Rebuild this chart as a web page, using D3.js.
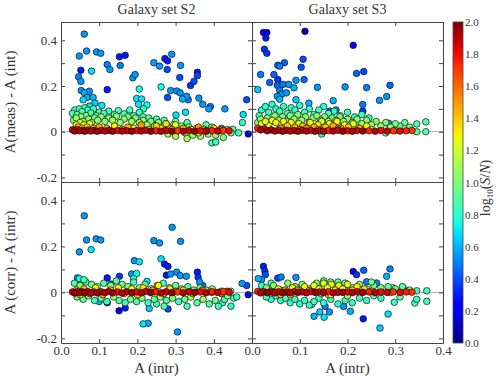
<!DOCTYPE html>
<html>
<head>
<meta charset="utf-8">
<script src="https://cdn.jsdelivr.net/npm/d3@7"></script>
<style>
  body { margin: 0; background: #fff; }
  text { font-family: "Liberation Serif", "DejaVu Serif", serif; fill: #333; }
</style>
</head>
<body>
<svg width="498" height="380"></svg>
<script>
// data: [A(intr), difference, log10(S/N)]

var titles = ["Galaxy set S2", "Galaxy set S3"];
var yLabels = ["A(meas) - A (int)", "A (corr) - A (intr)"];
var xTicks = [0, 0.1, 0.2, 0.3, 0.4];
var yTicks = [-0.2, -0.1, 0, 0.1, 0.2, 0.3, 0.4];
var yTickLabels = [-0.2, 0, 0.2, 0.4];
var cbTicks = [0, 0.2, 0.4, 0.6, 0.8, 1.0, 1.2, 1.4, 1.6, 1.8, 2.0];

var s2Meas = [
  [0.061,0.427,0.55],[0.067,0.353,0.55],[0.048,0.331,0.55],[0.052,0.269,0.3],[0.046,0.240,0.5],[0.052,0.220,0.55],
  [0.080,0.265,0.7],[0.093,0.349,0.55],[0.104,0.343,0.55],[0.053,0.180,0.55],[0.061,0.170,0.6],[0.074,0.177,0.55],
  [0.068,0.150,0.6],[0.084,0.150,0.6],[0.089,0.125,0.65],[0.075,0.112,0.7],[0.058,0.140,0.7],[0.121,0.294,0.5],
  [0.128,0.272,0.55],[0.153,0.328,0.3],[0.168,0.334,0.3],[0.155,0.290,0.5],[0.121,0.184,0.3],[0.107,0.115,0.7],
  [0.188,0.236,0.55],[0.194,0.250,0.55],[0.205,0.187,0.75],[0.198,0.145,0.7],[0.211,0.143,0.7],[0.203,0.120,0.7],
  [0.225,0.117,0.75],[0.216,0.100,0.8],[0.243,0.302,0.55],[0.258,0.287,0.55],[0.272,0.320,0.3],[0.279,0.310,0.3],
  [0.290,0.339,0.55],[0.278,0.272,0.4],[0.262,0.196,0.75],[0.279,0.150,0.4],[0.287,0.180,0.55],[0.303,0.178,0.55],
  [0.312,0.170,0.55],[0.313,0.290,0.55],[0.311,0.237,0.4],[0.329,0.155,0.55],[0.318,0.143,0.6],[0.333,0.140,0.5],
  [0.339,0.202,0.35],[0.348,0.220,0.4],[0.357,0.260,0.3],[0.357,0.245,0.4],[0.361,0.147,0.55],[0.371,0.120,0.55],
  [0.387,0.100,0.55],[0.391,0.110,0.5],[0.429,0.100,0.55],[0.326,0.085,0.7],[0.301,0.073,0.7],[0.486,0.140,0.4],
  [0.477,0.075,0.7],[0.475,0.040,0.8],[0.490,-0.010,0.15],[0.395,-0.049,0.85],
  [0.030,0.080,0.88],[0.036,0.095,0.85],[0.042,0.075,0.9],[0.048,0.100,0.85],[0.055,0.088,0.87],[0.062,0.105,0.82],
  [0.070,0.095,0.85],[0.078,0.082,0.88],[0.085,0.100,0.85],[0.092,0.070,0.9],[0.100,0.085,0.86],[0.112,0.080,0.88],
  [0.125,0.090,0.85],[0.140,0.075,0.9],[0.150,0.092,0.86],[0.165,0.078,0.88],[0.180,0.095,0.85],[0.190,0.070,0.9],
  [0.205,0.085,0.85],[0.215,0.065,0.88],[0.230,0.060,0.9],[0.250,0.055,0.88],[0.270,0.050,0.9],[0.300,0.045,0.9],
  [0.330,0.040,0.9],[0.380,0.030,0.9],[0.420,0.015,0.85],[0.450,0.010,0.85],[0.465,-0.005,0.85],[0.405,-0.045,0.85],
  [0.033,0.050,1.0],[0.040,0.060,1.05],[0.046,0.040,1.0],[0.052,0.065,1.02],[0.058,0.045,1.05],[0.065,0.070,1.0],
  [0.072,0.055,1.03],[0.080,0.040,1.08],[0.088,0.060,1.0],[0.096,0.050,1.05],[0.105,0.065,1.0],[0.115,0.045,1.05],
  [0.125,0.060,1.02],[0.135,0.050,1.08],[0.145,0.068,1.0],[0.155,0.040,1.05],[0.165,0.055,1.02],[0.175,0.065,1.0],
  [0.185,0.045,1.05],[0.195,0.060,1.0],[0.205,0.040,1.05],[0.215,0.050,1.02],[0.225,0.030,1.08],[0.235,0.045,1.0],
  [0.245,0.025,1.05],[0.255,0.040,1.0],[0.265,0.020,1.05],[0.275,0.035,1.02],[0.285,0.015,1.08],[0.295,0.030,1.0],
  [0.305,0.010,1.05],[0.315,0.025,1.0],[0.325,-0.005,1.05],[0.335,0.020,1.0],[0.345,-0.015,1.05],[0.355,0.015,1.02],
  [0.365,-0.020,1.08],[0.375,0.010,1.0],[0.385,-0.010,1.05],[0.395,0.020,1.0],[0.405,-0.015,1.05],[0.415,0.005,1.02],
  [0.425,-0.025,1.0],[0.435,0.010,0.95],[0.445,-0.005,0.95],[0.300,-0.020,1.1],[0.330,-0.030,1.1],[0.280,-0.010,1.1],
  [0.360,-0.005,1.15],[0.250,0.005,1.15],
  [0.040,0.030,1.3],[0.045,0.020,1.35],[0.050,0.040,1.25],[0.055,0.015,1.4],[0.060,0.030,1.3],[0.068,0.020,1.35],
  [0.075,0.035,1.25],[0.085,0.015,1.4],[0.100,0.020,1.45],[0.120,0.015,1.4],[0.140,0.025,1.3],[0.160,0.010,1.5],
  [0.175,0.020,1.45],[0.190,0.015,1.3],[0.210,0.030,1.5],[0.230,0.010,1.35],[0.250,0.025,1.4],[0.260,0.015,1.3],
  [0.275,0.035,1.35],[0.290,0.010,1.5],[0.300,0.030,1.25],[0.320,0.015,1.45],[0.340,0.010,1.3],[0.360,0.020,1.5],
  [0.380,0.005,1.55],[0.400,0.015,1.35],[0.420,0.010,1.6],
  [0.030,0.008,1.85],[0.036,0.003,1.95],[0.042,0.010,1.8],[0.048,0.004,1.9],[0.055,0.006,1.85],[0.062,0.002,1.95],
  [0.070,0.007,1.8],[0.078,0.003,1.9],[0.086,0.006,1.85],[0.095,0.002,1.95],[0.105,0.005,1.8],[0.115,0.003,1.9],
  [0.125,0.006,1.85],[0.135,0.002,1.95],[0.148,0.005,1.8],[0.160,0.003,1.9],[0.172,0.004,1.85],[0.185,0.002,1.95],
  [0.198,0.005,1.8],[0.210,0.003,1.9],[0.222,0.006,1.85],[0.235,0.002,1.95],[0.248,0.004,1.75],[0.262,0.002,1.9],
  [0.275,0.005,1.85],[0.290,0.002,1.95],[0.305,0.004,1.7],[0.320,0.002,1.9],[0.335,0.005,1.85],[0.350,0.002,1.95],
  [0.365,0.004,1.8],[0.380,0.002,1.9],[0.395,0.005,1.75],[0.410,0.003,1.85],[0.425,0.006,1.7],[0.440,0.004,1.8]
];

var s2Corr = [
  [0.061,0.333,0.55],[0.048,0.176,0.55],[0.067,0.228,0.55],[0.079,0.186,0.7],[0.092,0.233,0.55],[0.104,0.228,0.55],
  [0.243,0.225,0.55],[0.258,0.215,0.55],[0.291,0.283,0.55],[0.313,0.222,0.55],[0.262,0.146,0.7],[0.271,0.123,0.3],
  [0.280,0.113,0.3],[0.276,0.075,0.3],[0.287,0.080,0.55],[0.303,0.088,0.55],[0.312,0.073,0.55],[0.328,0.070,0.55],
  [0.357,0.088,0.3],[0.359,0.066,0.35],[0.371,0.030,0.5],[0.363,0.045,0.55],[0.192,0.138,0.55],[0.205,0.133,0.7],
  [0.198,0.082,0.75],[0.185,0.080,0.55],[0.225,0.048,0.7],[0.043,0.063,0.55],[0.053,0.046,0.55],[0.121,0.063,0.3],
  [0.153,0.070,0.35],[0.131,0.036,0.5],[0.152,-0.080,0.2],[0.168,-0.068,0.3],[0.121,-0.045,0.35],[0.215,-0.137,0.7],
  [0.228,-0.134,0.6],[0.231,-0.070,0.65],[0.280,-0.072,0.4],[0.305,-0.172,0.55],[0.474,0.039,0.55],[0.486,0.030,0.4],
  [0.490,-0.010,0.2],[0.423,-0.045,0.8],[0.445,-0.060,0.8],[0.100,-0.040,0.6],
  [0.035,0.040,0.9],[0.042,-0.020,0.95],[0.050,0.030,1.0],[0.058,-0.030,0.9],[0.065,0.045,0.85],[0.072,-0.015,1.05],
  [0.080,0.035,0.95],[0.088,-0.035,0.85],[0.095,0.025,1.0],[0.105,-0.025,0.95],[0.112,0.040,0.9],[0.120,-0.040,0.85],
  [0.130,0.030,1.0],[0.138,-0.020,1.05],[0.145,0.050,0.9],[0.152,-0.035,0.9],[0.160,0.035,0.95],[0.168,-0.045,0.85],
  [0.175,0.025,1.0],[0.182,-0.030,0.95],[0.190,0.045,0.85],[0.198,-0.040,0.9],[0.205,0.020,1.05],[0.212,-0.025,1.0],
  [0.220,0.035,0.9],[0.228,-0.045,0.85],[0.236,0.015,1.0],[0.244,-0.030,0.95],[0.252,0.030,0.9],[0.260,-0.020,1.05],
  [0.268,0.040,0.85],[0.276,-0.035,0.9],[0.284,0.020,1.0],[0.292,-0.025,1.0],[0.300,0.030,0.95],[0.308,-0.040,0.85],
  [0.316,0.015,1.05],[0.324,-0.030,0.95],[0.332,0.025,0.9],[0.340,-0.020,1.1],[0.348,0.010,1.0],[0.356,-0.045,0.9],
  [0.364,0.020,0.95],[0.372,-0.030,1.05],[0.380,0.010,1.0],[0.388,-0.050,0.9],[0.396,0.015,1.05],[0.404,-0.035,0.95],
  [0.412,-0.060,0.85],[0.420,0.005,1.0],[0.428,-0.030,0.9],[0.436,-0.015,0.95],[0.444,0.005,0.9],[0.452,-0.025,0.85],
  [0.460,-0.020,0.85],[0.060,0.055,0.85],[0.048,0.060,0.75],[0.190,0.060,0.8],[0.250,-0.050,0.85],[0.330,-0.060,0.85],
  [0.270,-0.060,0.9],
  [0.040,0.010,1.3],[0.050,-0.010,1.25],[0.060,0.015,1.4],[0.075,-0.005,1.35],[0.090,0.020,1.3],[0.110,-0.010,1.45],
  [0.130,0.010,1.4],[0.150,0.020,1.3],[0.165,-0.005,1.5],[0.185,0.015,1.25],[0.200,-0.010,1.4],[0.215,0.020,1.35],
  [0.240,0.010,1.5],[0.255,0.030,1.3],[0.270,-0.005,1.45],[0.285,0.015,1.3],[0.300,0.005,1.5],[0.320,0.010,1.4],
  [0.345,-0.005,1.55],[0.370,0.010,1.6],[0.395,0.000,1.55],[0.420,-0.005,1.6],[0.435,0.005,1.65],
  [0.030,0.002,1.85],[0.036,-0.003,1.95],[0.042,0.004,1.8],[0.048,-0.002,1.9],[0.055,0.003,1.85],[0.062,-0.001,1.95],
  [0.070,0.004,1.8],[0.078,-0.003,1.9],[0.086,0.002,1.85],[0.095,-0.002,1.95],[0.105,0.003,1.8],[0.115,-0.001,1.9],
  [0.125,0.004,1.85],[0.135,-0.002,1.95],[0.148,0.002,1.8],[0.160,-0.003,1.9],[0.172,0.003,1.85],[0.185,-0.001,1.95],
  [0.198,0.002,1.8],[0.210,-0.002,1.9],[0.222,0.004,1.85],[0.235,-0.001,1.95],[0.248,0.002,1.75],[0.262,-0.002,1.9],
  [0.275,0.003,1.85],[0.290,-0.001,1.95],[0.305,0.002,1.7],[0.320,-0.002,1.9],[0.335,0.003,1.85],[0.350,0.000,1.95],
  [0.365,0.002,1.8],[0.380,-0.002,1.9],[0.395,0.003,1.75],[0.410,0.000,1.85],[0.425,0.004,1.7],[0.440,0.001,1.8]
];

var s3Meas = [
  [0.024,0.434,0.25],[0.031,0.434,0.25],[0.029,0.410,0.3],[0.026,0.361,0.35],[0.031,0.343,0.35],[0.111,0.439,0.1],
  [0.212,0.378,0.25],[0.018,0.250,0.5],[0.012,0.184,0.65],[0.046,0.250,0.45],[0.054,0.291,0.45],[0.058,0.287,0.5],
  [0.068,0.302,0.45],[0.107,0.317,0.4],[0.103,0.282,0.4],[0.109,0.228,0.45],[0.092,0.225,0.55],[0.077,0.207,0.55],
  [0.065,0.207,0.5],[0.054,0.228,0.35],[0.037,0.215,0.45],[0.053,0.203,0.45],[0.058,0.181,0.5],[0.063,0.165,0.55],
  [0.072,0.170,0.55],[0.088,0.192,0.6],[0.053,0.155,0.55],[0.058,0.142,0.6],[0.092,0.140,0.65],[0.119,0.125,0.6],
  [0.137,0.194,0.55],[0.195,0.196,0.55],[0.219,0.255,0.45],[0.234,0.263,0.4],[0.240,0.193,0.5],[0.232,0.119,0.5],
  [0.232,0.090,0.35],[0.267,0.137,0.55],[0.282,0.154,0.55],[0.289,0.203,0.45],[0.170,0.136,0.6],[0.163,0.090,0.45],
  [0.176,0.095,0.5],[0.286,0.037,0.55],
  [0.015,0.070,0.85],[0.020,0.095,0.8],[0.028,0.110,0.8],[0.035,0.085,0.85],[0.042,0.120,0.78],[0.050,0.100,0.82],
  [0.058,0.090,0.85],[0.066,0.110,0.8],[0.074,0.080,0.88],[0.082,0.105,0.82],[0.090,0.095,0.85],[0.100,0.115,0.8],
  [0.110,0.085,0.85],[0.120,0.100,0.82],[0.130,0.075,0.88],[0.140,0.095,0.85],[0.150,0.110,0.8],[0.160,0.080,0.85],
  [0.172,0.090,0.82],[0.185,0.070,0.88],[0.200,0.085,0.85],[0.215,0.065,0.88],[0.230,0.075,0.85],[0.245,0.060,0.88],
  [0.146,-0.010,0.8],
  [0.012,0.040,1.0],[0.018,0.055,1.05],[0.025,0.030,1.0],[0.032,0.060,1.02],[0.040,0.045,1.05],[0.048,0.070,1.0],
  [0.056,0.050,1.05],[0.064,0.065,1.0],[0.072,0.045,1.08],[0.080,0.070,1.0],[0.088,0.055,1.05],[0.096,0.075,1.0],
  [0.104,0.050,1.05],[0.112,0.065,1.02],[0.120,0.040,1.08],[0.128,0.060,1.0],[0.136,0.070,1.02],[0.144,0.050,1.05],
  [0.152,0.065,1.0],[0.160,0.045,1.08],[0.168,0.060,1.02],[0.176,0.050,1.05],[0.184,0.065,1.0],[0.192,0.045,1.05],
  [0.200,0.055,1.02],[0.210,0.040,1.08],[0.220,0.055,1.0],[0.230,0.035,1.05],[0.240,0.050,1.0],[0.250,0.030,1.08],
  [0.260,0.045,1.0],[0.270,0.025,1.05],[0.280,0.040,1.0],[0.290,0.020,1.05],[0.300,0.035,1.0],[0.310,0.025,0.95],
  [0.320,0.040,0.95],[0.330,0.020,0.95],[0.345,0.034,0.9],[0.345,0.000,0.9],[0.364,0.043,0.9],[0.364,0.000,0.9],
  [0.300,0.005,0.9],[0.280,-0.005,0.95],[0.250,0.010,1.1],[0.220,0.020,1.15],[0.180,0.030,1.15],[0.140,0.035,1.15],
  [0.020,0.035,1.25],[0.028,0.045,1.3],[0.035,0.030,1.25],[0.042,0.050,1.28],[0.050,0.040,1.3],[0.058,0.030,1.25],
  [0.066,0.045,1.3],[0.074,0.025,1.4],[0.082,0.040,1.3],[0.090,0.020,1.45],[0.098,0.035,1.25],[0.106,0.025,1.4],
  [0.114,0.015,1.5],[0.122,0.040,1.3],[0.130,0.020,1.45],[0.138,0.030,1.3],[0.146,0.045,1.25],[0.154,0.020,1.4],
  [0.162,0.035,1.3],[0.170,0.025,1.45],[0.178,0.045,1.28],[0.186,0.015,1.5],[0.194,0.030,1.3],[0.202,0.020,1.4],
  [0.212,0.035,1.25],[0.225,0.015,1.45],[0.240,0.025,1.3],[0.060,0.015,1.5],[0.100,0.010,1.55],[0.140,0.010,1.5],
  [0.180,0.012,1.55],
  [0.012,0.015,1.75],[0.018,0.008,1.9],[0.025,0.012,1.8],[0.032,0.004,1.95],[0.040,0.008,1.85],[0.048,0.003,1.9],
  [0.056,0.006,1.8],[0.064,0.002,1.95],[0.072,0.006,1.85],[0.080,0.003,1.9],[0.088,0.005,1.8],[0.096,0.002,1.95],
  [0.105,0.006,1.85],[0.114,0.003,1.9],[0.123,0.005,1.8],[0.132,0.002,1.95],[0.141,0.004,1.85],[0.150,0.002,1.9],
  [0.160,0.005,1.75],[0.170,0.003,1.9],[0.180,0.006,1.85],[0.190,0.002,1.95],[0.200,0.004,1.8],[0.210,0.002,1.9],
  [0.220,0.005,1.85],[0.232,0.003,1.95],[0.245,0.004,1.75],[0.258,0.002,1.9],[0.270,0.005,1.8],[0.283,0.003,1.85],
  [0.296,0.004,1.7],[0.310,0.003,1.8],[0.323,0.004,1.75],[0.335,0.005,1.7]
];

var s3Corr = [
  [0.024,0.113,0.3],[0.027,0.092,0.35],[0.028,0.077,0.4],[0.013,0.060,0.6],[0.020,0.056,0.55],[0.054,0.062,0.4],
  [0.061,0.067,0.5],[0.092,0.065,0.55],[0.212,0.091,0.2],[0.219,0.077,0.35],[0.234,0.096,0.45],[0.289,0.102,0.5],
  [0.282,0.070,0.6],[0.240,0.046,0.5],[0.261,0.041,0.5],[0.198,0.036,0.35],[0.142,-0.085,0.65],[0.153,-0.061,0.5],
  [0.162,-0.085,0.55],[0.151,-0.108,0.7],[0.130,-0.104,0.6],[0.125,-0.053,0.75],[0.192,-0.061,0.55],[0.206,-0.082,0.6],
  [0.233,-0.115,0.3],[0.268,-0.155,0.65],[0.285,-0.094,0.7],[0.298,-0.043,0.8],[0.341,-0.046,0.85],[0.366,-0.039,0.85],
  [0.366,0.007,0.85],[0.345,0.007,0.85],[0.317,0.017,0.85],[0.295,0.020,0.85],
  [0.030,-0.020,0.85],[0.040,-0.030,0.8],[0.050,-0.015,0.85],[0.060,-0.035,0.8],[0.070,-0.025,0.85],[0.080,-0.045,0.8],
  [0.090,-0.030,0.85],[0.100,-0.050,0.8],[0.110,-0.035,0.85],[0.120,-0.055,0.8],[0.130,-0.040,0.85],[0.140,-0.025,0.82],
  [0.150,-0.045,0.8],[0.165,-0.030,0.85],[0.180,-0.050,0.8],[0.195,-0.035,0.85],[0.210,-0.045,0.82],[0.225,-0.025,0.85],
  [0.240,-0.035,0.82],[0.255,-0.015,0.88],[0.270,-0.025,0.85],[0.020,0.030,0.8],[0.040,0.040,0.85],[0.150,0.050,0.85],
  [0.180,0.045,0.88],[0.100,0.020,0.85],
  [0.030,0.020,1.0],[0.045,0.030,1.05],[0.060,0.010,1.0],[0.075,0.040,1.02],[0.090,0.025,1.05],[0.105,0.035,1.0],
  [0.120,0.015,1.08],[0.135,0.040,1.0],[0.150,0.030,1.05],[0.165,0.045,1.0],[0.180,0.025,1.05],[0.195,0.040,1.0],
  [0.210,0.020,1.05],[0.225,0.035,1.0],[0.240,0.015,1.05],[0.255,0.030,0.95],[0.270,0.020,1.0],[0.285,0.025,0.95],
  [0.300,0.015,0.95],[0.315,0.025,0.9],[0.330,0.010,0.95],[0.345,-0.030,0.85],[0.310,-0.020,0.9],[0.290,0.000,1.0],
  [0.200,-0.015,1.05],[0.160,-0.010,1.1],[0.080,-0.010,1.1],[0.050,0.000,1.1],[0.250,0.045,0.95],
  [0.040,0.005,1.4],[0.055,0.015,1.3],[0.070,0.010,1.45],[0.085,0.020,1.3],[0.095,0.010,1.5],[0.110,0.025,1.3],
  [0.120,0.008,1.45],[0.130,0.030,1.25],[0.140,0.015,1.3],[0.150,0.040,1.25],[0.158,0.020,1.28],[0.166,0.035,1.25],
  [0.174,0.010,1.3],[0.182,0.030,1.28],[0.190,0.015,1.3],[0.200,0.035,1.25],[0.210,0.010,1.4],[0.220,0.025,1.3],
  [0.235,0.015,1.35],[0.250,0.005,1.5],[0.145,-0.005,1.3],[0.165,-0.010,1.25],[0.180,0.000,1.35],[0.060,-0.010,1.45],
  [0.012,0.004,1.75],[0.018,-0.002,1.9],[0.025,0.003,1.8],[0.032,-0.001,1.95],[0.040,0.002,1.85],[0.048,-0.002,1.9],
  [0.056,0.003,1.8],[0.064,-0.001,1.95],[0.072,0.002,1.85],[0.080,-0.002,1.9],[0.088,0.003,1.8],[0.096,0.000,1.95],
  [0.105,0.002,1.85],[0.114,-0.002,1.9],[0.123,0.003,1.8],[0.132,0.000,1.95],[0.141,0.002,1.85],[0.150,-0.001,1.9],
  [0.160,0.003,1.75],[0.170,-0.002,1.9],[0.180,0.002,1.85],[0.190,0.000,1.95],[0.200,0.002,1.8],[0.210,-0.001,1.9],
  [0.220,0.003,1.85],[0.232,0.000,1.95],[0.245,0.002,1.75],[0.258,-0.001,1.9],[0.270,0.002,1.8],[0.283,0.000,1.85],
  [0.296,0.002,1.7],[0.310,0.000,1.8],[0.323,0.002,1.75],[0.335,0.001,1.7]
];

var svg = d3.select("svg");

// layout
var cols = [{x0: 61, x1: 252, dom: [0, 0.5]}, {x0: 252, x1: 443, dom: [0, 0.4]}];
var rows = [{y0: 22, y1: 182}, {y0: 182, y1: 343}];
var yDom = [-0.22, 0.48];
var axisColor = "#444";

// jet colour map over log10(S/N) in [0, 2]
var jr = d3.scaleLinear().domain([0, 0.35, 0.66, 0.89, 1]).range([0, 0, 1, 1, 0.5]).clamp(true);
var jg = d3.scaleLinear().domain([0, 0.125, 0.375, 0.64, 0.91, 1]).range([0, 0, 1, 1, 0, 0]).clamp(true);
var jb = d3.scaleLinear().domain([0, 0.11, 0.34, 0.65, 1]).range([0.5, 1, 1, 0, 0]).clamp(true);
function jet(v) {
  var t = v / 2;
  return d3.rgb(jr(t) * 255, jg(t) * 255, jb(t) * 255).toString();
}

var panels = [
  {col: 0, row: 0, pts: s2Meas},
  {col: 1, row: 0, pts: s3Meas},
  {col: 0, row: 1, pts: s2Corr},
  {col: 1, row: 1, pts: s3Corr}
];

var fmt = function(d) { return d === 0 ? "0" : d3.format(".1f")(d).replace("\u2212", "-"); };

panels.forEach(function(p, i) {
  var c = cols[p.col], r = rows[p.row];
  var x = d3.scaleLinear().domain(c.dom).range([c.x0, c.x1]);
  var y = d3.scaleLinear().domain(yDom).range([r.y1, r.y0]);

  svg.append("clipPath").attr("id", "clip" + i)
    .append("rect").attr("x", c.x0).attr("y", r.y0)
    .attr("width", c.x1 - c.x0).attr("height", r.y1 - r.y0);

  var g = svg.append("g").attr("clip-path", "url(#clip" + i + ")");

  // zero line
  g.append("line")
    .attr("x1", c.x0).attr("x2", c.x1)
    .attr("y1", y(0)).attr("y2", y(0))
    .attr("stroke", "#aaa").attr("stroke-width", 1);

  // points, low S/N first
  var pts = p.pts.slice().sort(function(a, b) { return a[2] - b[2]; });
  g.selectAll("circle")
    .data(pts)
    .enter()
    .append("circle")
      .attr("cx", function(d) { return x(d[0]); })
      .attr("cy", function(d) { return y(d[1]); })
      .attr("r", 3.3)
      .attr("fill", function(d) { return jet(d[2]); })
      .attr("stroke", "#111")
      .attr("stroke-width", 0.7);

  // axes with inward ticks
  var ax = svg.append("g").attr("class", "axes");

  ax.append("g")
    .attr("transform", "translate(0," + r.y1 + ")")
    .call(d3.axisBottom(x).tickValues(xTicks).tickSizeInner(-4).tickSizeOuter(0).tickPadding(3)
      .tickFormat(p.row === 1 ? d3.format(".1f") : ""));

  ax.append("g")
    .attr("transform", "translate(0," + r.y0 + ")")
    .call(d3.axisTop(x).tickValues(xTicks).tickSizeInner(-4).tickSizeOuter(0).tickFormat(""));

  ax.append("g")
    .attr("transform", "translate(" + c.x0 + ",0)")
    .call(d3.axisLeft(y).tickValues(yTicks).tickSizeInner(-4).tickSizeOuter(0).tickPadding(4)
      .tickFormat(function(d) {
        return p.col === 0 && yTickLabels.some(function(v) { return Math.abs(v - d) < 1e-9; }) ? fmt(d) : "";
      }));

  ax.append("g")
    .attr("transform", "translate(" + c.x1 + ",0)")
    .call(d3.axisRight(y).tickValues(yTicks).tickSizeInner(-4).tickSizeOuter(0).tickFormat(""));

  ax.selectAll("path.domain").attr("stroke", axisColor);
  ax.selectAll(".tick line").attr("stroke", axisColor);
  ax.selectAll(".tick text")
    .attr("fill", "#333")
    .style("font-family", "'Liberation Serif', serif")
    .style("font-size", "13px");

  if (p.row === 0) {
    svg.append("text")
      .attr("x", (c.x0 + c.x1) / 2).attr("y", 14)
      .attr("text-anchor", "middle")
      .style("font-size", "14px")
      .text(titles[p.col]);
  } else {
    svg.append("text")
      .attr("x", (c.x0 + c.x1) / 2).attr("y", 373)
      .attr("text-anchor", "middle")
      .style("font-size", "15px")
      .text("A (intr)");
  }

  if (p.col === 0) {
    svg.append("text")
      .attr("transform", "translate(15," + (r.y0 + r.y1) / 2 + ") rotate(-90)")
      .attr("text-anchor", "middle")
      .style("font-size", "15px")
      .text(yLabels[p.row]);
  }
});

// colour bar
var cb = {x: 453, w: 10, y0: 22, y1: 343};
var cy = d3.scaleLinear().domain([0, 2]).range([cb.y1, cb.y0]);

var grad = svg.append("defs").append("linearGradient")
  .attr("id", "jetgrad").attr("x1", 0).attr("y1", 1).attr("x2", 0).attr("y2", 0);
grad.selectAll("stop")
  .data(d3.range(0, 2.0001, 0.05))
  .enter()
  .append("stop")
    .attr("offset", function(d) { return d / 2; })
    .attr("stop-color", function(d) { return jet(d); });

svg.append("rect")
  .attr("x", cb.x).attr("y", cb.y0)
  .attr("width", cb.w).attr("height", cb.y1 - cb.y0)
  .attr("fill", "url(#jetgrad)")
  .attr("stroke", axisColor).attr("stroke-width", 0.8);

svg.append("g")
  .attr("transform", "translate(" + (cb.x + cb.w) + ",0)")
  .call(d3.axisRight(cy).tickValues(cbTicks).tickSize(0).tickPadding(2).tickFormat(d3.format(".1f")))
  .call(function(g) { g.select(".domain").remove(); })
  .selectAll("text")
    .attr("fill", "#333")
    .style("font-family", "'Liberation Serif', serif")
    .style("font-size", "11px");

var cbLabel = svg.append("text")
  .attr("transform", "translate(490,188) rotate(-90)")
  .attr("text-anchor", "middle")
  .style("font-size", "14px");
cbLabel.append("tspan").text("log");
cbLabel.append("tspan").attr("dy", 3).style("font-size", "9px").text("10");
cbLabel.append("tspan").attr("dy", -3).text("(");
cbLabel.append("tspan").style("font-style", "italic").text("S");
cbLabel.append("tspan").text("/");
cbLabel.append("tspan").style("font-style", "italic").text("N");
cbLabel.append("tspan").text(")");
</script>
</body>
</html>
